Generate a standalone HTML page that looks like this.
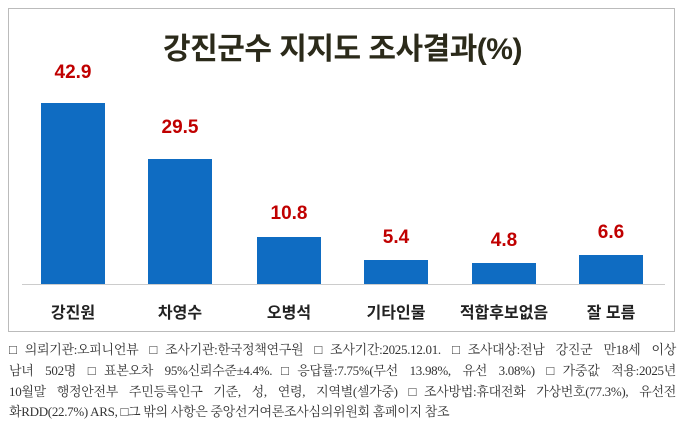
<!DOCTYPE html>
<html><head><meta charset="utf-8"><style>
body{margin:0;width:685px;height:439px;background:#fff;overflow:hidden;font-family:"Liberation Sans","Noto Sans CJK KR",sans-serif}
.frame{position:absolute;left:8px;top:8px;width:667px;height:324px;border:1.5px solid #bbb;box-sizing:border-box}
.title{position:absolute;left:0;width:685px;top:24px;text-align:center;font-size:30px;font-weight:bold;color:#2b2a1a;letter-spacing:-0.5px}
.bar{position:absolute;background:#0f6cc2;width:64px}
.val{position:absolute;width:100px;text-align:center;color:#c00000;font-size:19px;font-weight:bold}
.lab{position:absolute;width:130px;text-align:center;color:#222;font-size:16px;font-weight:bold;top:299px}
.axis{position:absolute;left:22px;width:643px;top:284px;height:1px;background:#ccc}
.note{position:absolute;left:9px;top:340px;width:667px;font-family:"Liberation Serif","Noto Serif CJK SC",serif;font-size:13px;line-height:20.8px;color:#333;letter-spacing:-0.3px}
.note div{white-space:nowrap;text-align:justify;text-align-last:justify}
.note div.last{text-align-last:left}
</style></head><body>
<div class="frame"></div>
<div class="title">강진군수 지지도 조사결과(%)</div>
<div class="axis"></div>
<div class="bar" style="left:41px;top:103px;height:181px"></div>
<div class="bar" style="left:148px;top:159px;height:125px"></div>
<div class="bar" style="left:257px;top:237px;height:47px"></div>
<div class="bar" style="left:364px;top:260px;height:24px"></div>
<div class="bar" style="left:472px;top:263px;height:21px"></div>
<div class="bar" style="left:579px;top:255px;height:29px"></div>
<div class="val" style="left:23px;top:62px">42.9</div>
<div class="val" style="left:130px;top:117px">29.5</div>
<div class="val" style="left:239px;top:203px">10.8</div>
<div class="val" style="left:346px;top:227px">5.4</div>
<div class="val" style="left:454px;top:230px">4.8</div>
<div class="val" style="left:561px;top:222px">6.6</div>
<div class="lab" style="left:8px">강진원</div>
<div class="lab" style="left:115px">차영수</div>
<div class="lab" style="left:224px">오병석</div>
<div class="lab" style="left:331px">기타인물</div>
<div class="lab" style="left:439px">적합후보없음</div>
<div class="lab" style="left:546px">잘 모름</div>
<div class="note">
<div>□의뢰기관:오피니언뷰 □조사기관:한국정책연구원 □조사기간:2025.12.01. □조사대상:전남 강진군 만18세 이상</div>
<div>남녀 502명 □표본오차 95%신뢰수준±4.4%.□응답률:7.75%(무선 13.98%, 유선 3.08%) □가중값 적용:2025년</div>
<div>10월말 행정안전부 주민등록인구 기준, 성, 연령, 지역별(셀가중) □조사방법:휴대전화 가상번호(77.3%), 유선전</div>
<div class="last">화RDD(22.7%) ARS, □그 밖의 사항은 중앙선거여론조사심의위원회 홈페이지 참조</div>
</div>
</body></html>
